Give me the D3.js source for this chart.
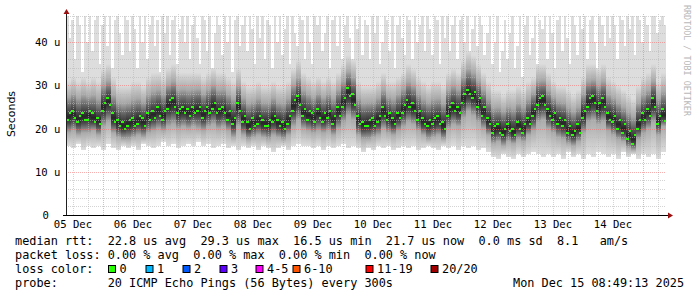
<!DOCTYPE html>
<html><head><meta charset="utf-8">
<script src="https://cdn.jsdelivr.net/npm/d3@7"></script>
<style>body{margin:0;background:#fff}svg{display:block}text{white-space:pre}</style>
</head><body>
<svg id="c" width="697" height="297"></svg>
<script>
// ---- data (microseconds) ----
// 1-hour bins starting 05 Dec ~09:12 : highest ping and median
const pingMax = [
46,41,45,36,46,44,33,46,40,46,38,45,46,35,44,46,39,46,34,45,46,42,37,46,
45,38,46,43,34,46,40,46,36,44,46,39,45,33,46,42,46,37,45,46,35,43,46,40,
46,36,44,46,41,35,46,45,38,46,34,42,46,44,37,46,40,46,33,45,46,39,44,46,
38,46,43,35,46,41,46,36,45,44,34,46,40,46,37,43,46,35,46,42,39,46,45,36,
46,40,35,46,44,46,38,42,46,34,45,46,39,46,36,44,46,41,35,46,43,46,37,45,
44,36,46,42,46,35,40,46,45,38,46,34,44,46,41,37,46,45,36,46,40,44,46,38,
46,43,37,46,45,35,46,41,46,38,44,46,36,45,46,40,46,34,43,46,39,46,44,37,
42,46,35,40,46,33,38,45,36,42,46,34,39,46,32,44,46,37,41,46,35,45,43,46,
36,46,42,34,45,46,38,46,41,35,46,44,37,46,43,46,36,45,46,40,34,46,44,39,
46,41,46,44,36,46,45,39,46,43,46,37,46,45,40,46,44,38,46,46,42,45,46,44];
const pingMed = [
22,23.5,24,22.5,21.5,23,23.5,22,22,24,23.5,21.5,22.5,21,24,26,27,25.5,23.5,21.5,22,20.5,21.5,20,
20.5,22,22.5,20.5,21,23,22.5,20.5,23.5,22,24,22.5,25,23,22,24,24.5,26.5,27,25,23.5,24.5,25,23.5,
24.5,23,25,23.5,24,25,22.5,24,25,23.5,24.5,26,23.5,24.5,25,23.5,22,24,21,22.5,26,24,21.5,23,
21.5,20,22.5,20.5,21,23,22,20.5,20.5,22,21.5,23,22,20.5,21.5,20,21,23,24,26.5,27.5,25.5,23,24.5,
22,24,23.5,21.5,24.5,22.5,21.5,23.5,22.5,24,21,23,25,23,25,27,29.3,27.5,28,25.5,23,21,21.5,20.5,
20.5,22,22.5,20.5,21.5,23,25,23,22,23.5,22.5,21,23.5,22.5,23.5,25.5,26.5,25,26,24,22,24,22.5,21,
20.5,22,21,22.5,23,21,21.5,20,23,25,26,24,25,23.5,26,28,29,28,27,28.5,25,27,23,25,
22.5,21,19,20.5,21,19,18.5,20,21,19.5,20,18.5,21.5,20,19,21,22.5,21,23,24.5,25.5,27,27.5,25.5,
24.5,23,22,23.5,21,22.5,20.5,22,19,20.5,18.5,19.5,21,19,22.5,24,25,27,27.5,26,24,26,27,25,
23.5,22,21.5,23,20,22,19,21,17.5,19.5,16.5,18.5,20,22,23.5,22,24.5,23,27,25,21,23,24.5,21.7];
// 2-hour bins: upper smoke edge, lower smoke edge, lowest ping
const pingHi = [
31,32,31,32,31,32,31,34,35,32,30,30,
30,31,31,30,32,33,33,32,34,35,33,33,
33,33,33,32,33,34,33,33,32,31,34,31,
30,30,31,30,30,31,30,30,31,34,36,33,
32,31,32,31,32,31,33,35,37,36,31,30,
30,30,31,33,31,31,32,33,35,34,32,31,
30,31,31,30,33,34,33,36,38,37,35,33,
31,29,29,28,29,29,30,29,31,32,35,35,
33,31,30,30,29,28,29,32,35,35,34,35,
32,31,30,29,28,27,30,32,33,35,31,33];
const pingLo = [
19,19.5,18.5,19,19,19.5,18.5,20.5,21.5,19,18,17.5,
17.5,18,18.5,18,19,19.5,20,19.5,20.5,21,20,20.5,
20,20.5,20,19.5,20.5,21,20,20.5,19.5,18,20.5,18.5,
17.5,18,18.5,18,17.5,18.5,18,17.5,18.5,20.5,22,20,
19.5,19,19.5,19,19.5,18.5,20,21.5,23,22,18.5,17.5,
17.5,18,18.5,20,19,18.5,19.5,20.5,21.5,21,19.5,18.5,
17.5,18,18.5,17.5,20,21,20.5,22.5,24,23,21.5,20,
18.5,16.5,17,16,17,16.5,17.5,17,18.5,19.5,21.5,22,
20,19,18,17.5,16.5,16,17,19,21.5,22,21,21.5,
19.5,18.5,17.5,17,15.5,15,17.5,19,20,21.5,18.5,20.5];
const pingMin = [
16,15.5,16.5,15,16,15.5,16,15,16.5,15.5,15,16,
15.5,16,15,16.5,16,15.5,16,17,16,16.5,15.5,16,
16.5,16,17,16,16.5,15.5,16,16.5,15.5,16,15,16,
15.5,16,15,16,15.5,14.5,15.5,16,15,16,16.5,16,
16,15.5,16,15,16,15.5,16,16.5,15.5,16,15.5,14.5,
15.5,15,16,15.5,16,15,15.5,16,15.5,16,15,15.5,
16,15.5,15,16,15.5,16,15,16,15.5,16,15,15.5,
14.5,13.5,13,14,13.5,13,14,13.5,14,14.5,14,13.5,
14,13.5,14,13,14.5,13.5,14,13,14,13.5,14.5,14,
13.5,14,13,14.5,13.5,14,13,14,13.5,14,13,14.5];

const yTickValues = [0,10,20,30,40];
const yTickLabels = ["0","10 u","20 u","30 u","40 u"];
const dayLabels = ["05 Dec","06 Dec","07 Dec","08 Dec","09 Dec","10 Dec","11 Dec","12 Dec","13 Dec","14 Dec"];
const lossLabels = ["0","1","2","3","4-5","6-10","11-19","20/20"];
const lossColors = ["#26ff00","#00b8ff","#0059ff","#5e00ff","#ff00ff","#ff5500","#ff0000","#a00000"];
const statsText = "median rtt:  22.8 us avg  29.3 us max  16.5 us min  21.7 us now  0.0 ms sd  8.1   am/s";
const lossText = "packet loss: 0.00 % avg  0.00 % max  0.00 % min  0.00 % now";
const probeText = "probe:       20 ICMP Echo Pings (56 Bytes) every 300s";
const dateText = "Mon Dec 15 08:49:13 2025";

// ---- layout ----
const svg = d3.select("#c");
const t0 = Date.UTC(2025,11,5,9,12), t1 = Date.UTC(2025,11,15,9,12);
const H1 = 3600*1000, H2 = 2*H1;
const x = d3.scaleUtc().domain([t0,t1]).range([66,666]);
const y = d3.scaleLinear().domain([0,46.5]).range([215,14]);
const mono = "'DejaVu Sans Mono', monospace";
const px = v => Math.round(v);

svg.append("rect").attr("width",697).attr("height",297).attr("fill","#fff");

// hourly lowest-to-highest envelope
const hourly = pingMax.map((m,j)=>({t:t0+j*H1, max:m, min:pingMin[Math.floor(j/2)], med:pingMed[j]}));
svg.append("g").attr("shape-rendering","crispEdges").selectAll("rect").data(hourly).join("rect")
  .attr("x",d=>px(x(d.t))).attr("width",d=>px(x(d.t+H1))-px(x(d.t)))
  .attr("y",d=>px(y(d.max))).attr("height",d=>px(y(d.min))-px(y(d.max)))
  .attr("fill","#dddddd");

// smoke core (2-hour bins)
const defs = svg.append("defs");
const bins = pingHi.map((h,i)=>({i, t:t0+i*H2, hi:h, lo:pingLo[i], min:pingMin[i],
   med:(pingMed[2*i]+pingMed[2*i+1])/2}));
bins.forEach(b=>{
  const yTop = y(b.hi), yBot = y(b.min), h = yBot-yTop;
  const off = v => Math.max(0,Math.min(1,(y(v)-yTop)/h));
  const g = defs.append("linearGradient").attr("id","g"+b.i)
    .attr("gradientUnits","userSpaceOnUse").attr("x1",0).attr("x2",0).attr("y1",yTop).attr("y2",yBot);
  [[0,"#dddddd"],
   [off(b.med+0.55*(b.hi-b.med)),"#a8a8a8"],
   [off(b.med+0.25*(b.hi-b.med)),"#5a5a5a"],
   [off(b.med),"#262626"],
   [off(b.med-0.4*(b.med-b.lo)),"#4a4a4a"],
   [off(b.lo),"#ababab"],
   [1,"#dddddd"]].forEach(s=>g.append("stop").attr("offset",s[0]).attr("stop-color",s[1]));
});
svg.append("g").attr("shape-rendering","crispEdges").selectAll("rect").data(bins).join("rect")
  .attr("x",d=>px(x(d.t))).attr("width",d=>px(x(d.t+H2))-px(x(d.t)))
  .attr("y",d=>y(d.hi)).attr("height",d=>y(d.min)-y(d.hi))
  .attr("fill",d=>"url(#g"+d.i+")");

// grid
const grid = svg.append("g");
const minorY = d3.range(2,47,2).filter(v=>v%10!==0);
const hours = d3.utcHour.every(6).range(t0,t1);
function hl(sel,data,col,op){
  grid.selectAll(sel).data(data).join("line")
    .attr("x1",66).attr("x2",666).attr("y1",d=>px(y(d))+0.5).attr("y2",d=>px(y(d))+0.5)
    .attr("stroke",col).attr("stroke-opacity",op).attr("stroke-dasharray","1,1");
}
function vl(sel,data,col,op){
  grid.selectAll(sel).data(data).join("line")
    .attr("x1",d=>px(x(d))+0.5).attr("x2",d=>px(x(d))+0.5).attr("y1",14).attr("y2",215)
    .attr("stroke",col).attr("stroke-opacity",op).attr("stroke-dasharray","1,1");
}
hl(".hy",minorY,"#b8b8b8",0.6);
vl(".vx",hours.filter(h=>new Date(h).getUTCHours()!==0),"#b8b8b8",0.6);
hl(".hm",yTickValues.filter(v=>v>0),"#f07070",0.55);
vl(".vm",hours.filter(h=>new Date(h).getUTCHours()===0),"#f07070",0.55);

// median (loss colour: 0 loss)
svg.append("g").attr("shape-rendering","crispEdges").selectAll("rect").data(hourly).join("rect")
  .attr("x",d=>px(x(d.t))).attr("width",d=>px(x(d.t+H1))-px(x(d.t)))
  .attr("y",d=>px(y(d.med))-1).attr("height",2)
  .attr("fill",lossColors[0]);

// axes
svg.append("line").attr("x1",66.5).attr("x2",66.5).attr("y1",215).attr("y2",13).attr("stroke","#202020");
svg.append("line").attr("x1",63).attr("x2",668).attr("y1",215.5).attr("y2",215.5).attr("stroke","#000");
svg.append("path").attr("d","M63.5,14 L69.5,14 L66.5,9 Z").attr("fill","#9b1010");
svg.append("path").attr("d","M668,212.5 L668,218.5 L673,215.5 Z").attr("fill","#9b1010");

// y tick labels
svg.append("g").selectAll("text").data(yTickValues).join("text")
  .attr("x",(d,i)=>i===0?49:60.5).attr("y",d=>y(d)+4)
  .attr("text-anchor","end").attr("font-family",mono).attr("font-size","10.6px").attr("fill","#000")
  .text((d,i)=>yTickLabels[i]);

// x labels (centred at noon)
const days = d3.utcDay.range(Date.UTC(2025,11,5),Date.UTC(2025,11,15));
svg.append("g").selectAll("text").data(days).join("text")
  .attr("x",d=>x(+d+12*H1)).attr("y",228)
  .attr("text-anchor","middle").attr("font-family",mono).attr("font-size","10.6px").attr("fill","#000")
  .text((d,i)=>dayLabels[i]);

// y title
svg.append("text").attr("transform","translate(15,114) rotate(-90)")
  .attr("text-anchor","middle").attr("font-family","'DejaVu Sans', sans-serif").attr("font-size","11px")
  .text("Seconds");

// watermark
svg.append("text").attr("transform","translate(684,5) rotate(90)")
  .attr("font-family",mono).attr("font-size","8.4px").attr("fill","#b8b8b8")
  .text("RRDTOOL / TOBI OETIKER");

// legend
const lg = svg.append("g").attr("font-family",mono).attr("font-size","11.85px").attr("fill","#000");
lg.append("text").attr("x",15).attr("y",245).text(statsText);
lg.append("text").attr("x",15).attr("y",259).text(lossText);
lg.append("text").attr("x",15).attr("y",273).text("loss color:");
lg.append("text").attr("x",15).attr("y",287).text(probeText);
lg.append("text").attr("x",513).attr("y",287).text(dateText);
const sqX = [108,145.5,182.5,219.5,255.5,292.5,365.5,430.5];
lossLabels.forEach((l,i)=>{
  lg.append("rect").attr("x",sqX[i]+0.5).attr("y",265.5).attr("width",7).attr("height",7)
    .attr("fill",lossColors[i]).attr("stroke","#000").attr("stroke-width",1);
  lg.append("text").attr("x",sqX[i]+11.5).attr("y",273).text(l);
});
</script>
</body></html>
